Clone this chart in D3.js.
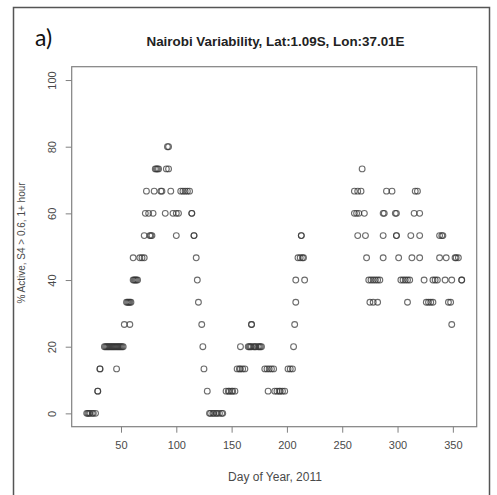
<!DOCTYPE html>
<html>
<head>
<meta charset="utf-8">
<script src="https://cdn.jsdelivr.net/npm/d3@7"></script>
<style>
  html, body { margin: 0; padding: 0; background: #fff; }
  svg { display: block; }
</style>
</head>
<body>
<svg id="chart" width="497" height="495"></svg>
<script>
// ---- data: day-of-year positions of points at each "% active" level (k/15 * 100) ----
const level0  = [19, 20, 21, 22, 24, 25, 27, 130, 131, 133, 134, 136, 137, 139, 141, 142];
const level1  = [29, 29, 128, 145, 147, 148, 150, 151, 153, 183, 189, 191, 193, 194, 196, 198];
const level2  = [31, 31, 46, 125, 155, 157, 158, 160, 162, 180, 182, 184, 186, 188, 201, 203, 205];
const level3  = [35, 36, 37, 38, 39, 40, 41, 42, 43, 44, 45, 46, 47, 48, 49, 50, 51, 52, 124, 158, 165, 166, 167, 168, 170, 171, 172, 174, 175, 176, 177, 206];
const level4  = [53, 58, 123, 168, 168, 207, 349];
const level5  = [55, 56, 57, 58, 59, 120, 208, 275, 278, 282, 309, 326, 328, 330, 332, 346, 348];
const level6  = [61, 62, 63, 64, 65, 119, 208, 216, 274, 276, 278, 280, 282, 284, 303, 305, 307, 309, 311, 324, 332, 334, 336, 343, 349, 358, 358];
const level7  = [61, 67, 69, 71, 118, 210, 212, 214, 215, 272, 287, 301, 313, 320, 338, 344, 352, 353, 355];
const level8  = [71, 76, 77, 78, 100, 116, 116, 213, 213, 264, 271, 287, 299, 299, 312, 320, 338, 340, 341];
const level9  = [72, 75, 79, 90, 97, 100, 102, 114, 114, 261, 263, 265, 270, 287, 288, 298, 299, 315, 320];
const level10 = [73, 80, 86, 87, 95, 104, 106, 108, 110, 112, 261, 264, 267, 290, 295, 316, 318];
const level11 = [81, 82, 83, 84, 91, 93, 268];
const level12 = [92, 93];

const levelDays = [level0, level1, level2, level3, level4, level5, level6, level7, level8, level9, level10, level11, level12];
const levelSteps = 15; // percentages are multiples of 100/15

const xTicks = [50, 100, 150, 200, 250, 300, 350];
const yTicks = [0, 20, 40, 60, 80, 100];

const titleText = "Nairobi Variability, Lat:1.09S, Lon:37.01E";
const xLabel = "Day of Year, 2011";
const yLabel = "% Active, S4 > 0.6, 1+ hour";
const panelLabel = "a)";

// ---- build points ----
const points = [];
levelDays.forEach((days, k) => {
  days.forEach(d => points.push({ day: d, pct: k * 100 / levelSteps }));
});

// ---- layout ----
const svg = d3.select("#chart");
const plot = { left: 71.7, right: 476.7, top: 66.7, bottom: 426.7 };

const dayMin = d3.min(points, p => p.day), dayMax = d3.max(points, p => p.day);
const ext = (dayMax - dayMin) * 0.04;
const x = d3.scaleLinear().domain([dayMin - ext, dayMax + ext]).range([plot.left, plot.right]);
const y = d3.scaleLinear().domain([-4, 104]).range([plot.bottom, plot.top]);

// outer frame
svg.append("rect")
  .attr("x", 13.5).attr("y", 7.5).attr("width", 476).attr("height", 500)
  .attr("fill", "none").attr("stroke", "#555").attr("stroke-width", 1.5);

const axisColor = "#808080";
const textColor = "#4a4a4a";
const font = "'Liberation Sans', Arial, sans-serif";

// x axis
const xAxis = svg.append("g")
  .attr("transform", `translate(0,${plot.bottom})`)
  .call(d3.axisBottom(x).tickValues(xTicks).tickSize(6).tickPadding(9).tickSizeOuter(0));
xAxis.select(".domain").remove();
xAxis.selectAll(".tick line").attr("stroke", axisColor);
xAxis.selectAll(".tick text").attr("fill", textColor).style("font-family", font).style("font-size", "11px");

// y axis
const yAxis = svg.append("g")
  .attr("transform", `translate(${plot.left},0)`)
  .call(d3.axisLeft(y).tickValues(yTicks).tickSize(6).tickSizeOuter(0));
yAxis.select(".domain").remove();
yAxis.selectAll(".tick line").attr("stroke", axisColor);
yAxis.selectAll(".tick text")
  .attr("fill", textColor).style("font-family", font).style("font-size", "11px")
  .attr("text-anchor", "middle").attr("dy", null).attr("x", null)
  .attr("transform", "translate(-20,0) rotate(-90)")
  .attr("dominant-baseline", "central");

// plot box
svg.append("rect")
  .attr("x", plot.left).attr("y", plot.top)
  .attr("width", plot.right - plot.left).attr("height", plot.bottom - plot.top)
  .attr("fill", "none").attr("stroke", axisColor).attr("stroke-width", 1.2);

// points
svg.append("g").selectAll("circle").data(points).join("circle")
  .attr("cx", p => x(p.day))
  .attr("cy", p => y(p.pct))
  .attr("r", 2.9)
  .attr("fill", "none")
  .attr("stroke", "#333")
  .attr("stroke-opacity", 0.72)
  .attr("stroke-width", 1.1);

// title
svg.append("text")
  .attr("x", 275.5).attr("y", 46)
  .attr("text-anchor", "middle")
  .style("font-family", font).style("font-size", "13.4px").style("font-weight", "bold")
  .attr("fill", "#222")
  .text(titleText);

// panel label
svg.append("text")
  .attr("x", 35).attr("y", 46)
  .style("font-family", "Lato, 'Open Sans', sans-serif").style("font-size", "23px")
  .attr("fill", "#111")
  .text(panelLabel);

// x label
svg.append("text")
  .attr("x", 275).attr("y", 481)
  .attr("text-anchor", "middle")
  .style("font-family", font).style("font-size", "12px")
  .attr("fill", textColor)
  .text(xLabel);

// y label
svg.append("text")
  .attr("transform", `translate(25,243) rotate(-90)`)
  .attr("text-anchor", "middle")
  .style("font-family", font).style("font-size", "10px")
  .attr("fill", textColor)
  .text(yLabel);
</script>
</body>
</html>
